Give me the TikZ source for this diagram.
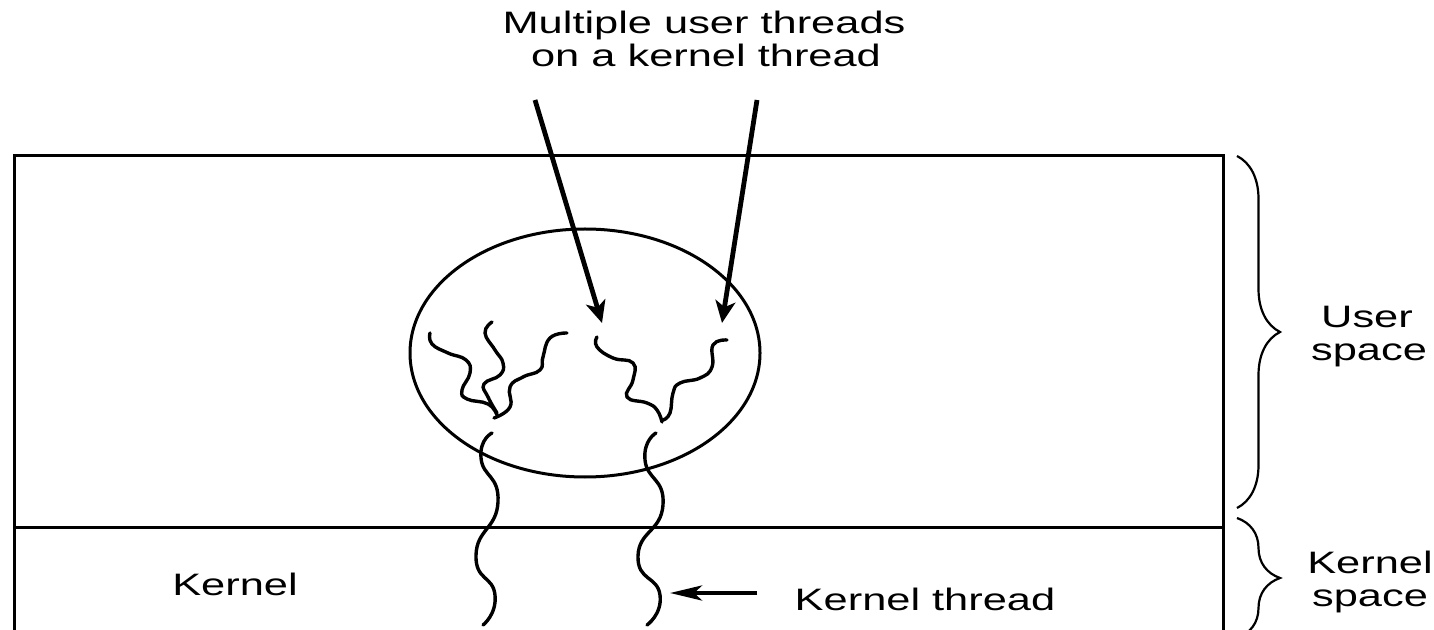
\documentclass[tikz,border=0pt]{standalone}
\usepackage{fontspec}
\setmainfont{Liberation Sans}
\usetikzlibrary{arrows.meta,decorations.pathreplacing,shapes.geometric}
\newcommand{\widetext}[1]{\scalebox{1.4}[1]{#1}}
\tikzset{
  label text/.style={inner sep=0pt, anchor=base, font=\fontsize{15.5}{16.5}\selectfont},
  frame/.style={line width=1.5pt},
  thread/.style={line width=1.7pt, line cap=round},
  pointer/.style={line width=2.4pt, -{Stealth[length=11pt,width=10pt,inset=3pt]}},
  kpointer/.style={line width=2.2pt, -{Stealth[length=16pt,width=7.5pt,inset=4pt]}},
  spacebrace/.style={line width=1.1pt, decorate, decoration={brace, amplitude=21.5pt}},
}
\begin{document}
\begin{tikzpicture}[x=0.5pt, y=-0.5pt]
  \useasboundingbox (0,0) rectangle (1434,630);
  \clip (0,0) rectangle (1434,630);

  % address space: user part above, kernel part below
  \draw[frame] (14,700) -- (14,156) -- (1223,156) -- (1223,700);
  \draw[frame] (14,527) -- (1223,527);

  % the process holding the user threads
  \node[draw, line width=1.5pt, ellipse, minimum width=175pt, minimum height=124pt, inner sep=0pt] (proc) at (585,353) {};

  % user threads
  \draw[thread] plot[smooth, tension=0.8] coordinates {(430,333) (432,344) (448,353) (466,360) (470,373) (462,390) (467,399) (488,404) (497,415)};
  \draw[thread] plot[smooth, tension=0.8] coordinates {(492,322) (485,333) (495,350) (503,363) (500,375) (484,384) (488,397) (497,413)};
  \draw[thread] plot[smooth, tension=0.8] coordinates {(567,333) (550,338) (543,357) (540,370) (523,377) (510,387) (510,407) (494,418)};
  \draw[thread] plot[smooth, tension=0.8] coordinates {(597,337) (597,347) (613,358) (633,363) (633,380) (627,397) (647,403) (657,410) (662,422)};
  \draw[thread] plot[smooth, tension=0.8] coordinates {(727,340) (713,345) (712,367) (700,378) (680,383) (673,393) (670,413) (663,420)};

  % kernel threads
  \draw[thread] plot[smooth, tension=1] coordinates {(492,433) (481,458) (498,502) (476,555) (495,595) (483,625)};
  \draw[thread] plot[smooth, tension=1] coordinates {(656,433) (645,460) (663,505) (638,556) (660,595) (647,625)};

  % labels
  \node[label text] (lblA) at (704,34) {\widetext{Multiple user threads}};
  \node[label text] (lblB) at (706,67) {\widetext{on a kernel thread}};
  \node[label text] (kern) at (235,595) {\widetext{Kernel}};
  \node[label text] (kthr) at (925,610) {\widetext{Kernel thread}};
  \node[label text] (us1) at (1367,328) {\widetext{User}};
  \node[label text] (us2) at (1369,361) {\widetext{space}};
  \node[label text] (ks1) at (1370,573) {\widetext{Kernel}};
  \node[label text] (ks2) at (1370,606) {\widetext{space}};

  % pointers
  \coordinate (pa) at (535,100);
  \coordinate (pb) at (757,100);
  \coordinate (ta) at (602,323);
  \coordinate (tb) at (722,323);
  \draw[pointer] (pa) -- (ta);
  \draw[pointer] (pb) -- (tb);
  \coordinate (kp) at (757,593);
  \coordinate (kt) at (670,593);
  \draw[kpointer] (kp) -- (kt);

  % braces
  \draw[spacebrace] (1237,156) -- (1237,508);
  \draw[spacebrace] (1237,518) -- (1237,638);
\end{tikzpicture}
\end{document}
